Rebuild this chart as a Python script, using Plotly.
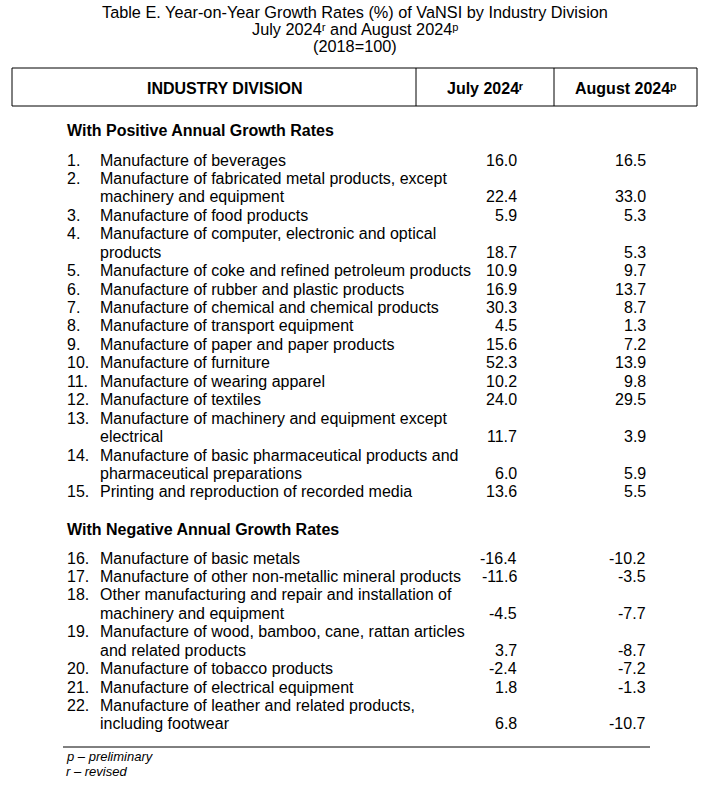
import plotly.graph_objects as go

# ---------------- data ----------------
title_lines = ["Table E. Year-on-Year Growth Rates (%) of VaNSI by Industry Division",
               "July 2024\u02b3 and August 2024\u1d56",
               "(2018=100)"]
col_headers = ["INDUSTRY DIVISION", "July 2024\u02b3", "August 2024\u1d56"]

pos_header = "With Positive Annual Growth Rates"
pos_industries = [
    ["Manufacture of beverages"],
    ["Manufacture of fabricated metal products, except", "machinery and equipment"],
    ["Manufacture of food products"],
    ["Manufacture of computer, electronic and optical", "products"],
    ["Manufacture of coke and refined petroleum products"],
    ["Manufacture of rubber and plastic products"],
    ["Manufacture of chemical and chemical products"],
    ["Manufacture of transport equipment"],
    ["Manufacture of paper and paper products"],
    ["Manufacture of furniture"],
    ["Manufacture of wearing apparel"],
    ["Manufacture of textiles"],
    ["Manufacture of machinery and equipment except", "electrical"],
    ["Manufacture of basic pharmaceutical products and", "pharmaceutical preparations"],
    ["Printing and reproduction of recorded media"],
]
pos_july = [16.0, 22.4, 5.9, 18.7, 10.9, 16.9, 30.3, 4.5, 15.6, 52.3, 10.2, 24.0, 11.7, 6.0, 13.6]
pos_aug = [16.5, 33.0, 5.3, 5.3, 9.7, 13.7, 8.7, 1.3, 7.2, 13.9, 9.8, 29.5, 3.9, 5.9, 5.5]

neg_header = "With Negative Annual Growth Rates"
neg_industries = [
    ["Manufacture of basic metals"],
    ["Manufacture of other non-metallic mineral products"],
    ["Other manufacturing and repair and installation of", "machinery and equipment"],
    ["Manufacture of wood, bamboo, cane, rattan articles", "and related products"],
    ["Manufacture of tobacco products"],
    ["Manufacture of electrical equipment"],
    ["Manufacture of leather and related products,", "including footwear"],
]
neg_july = [-16.4, -11.6, -4.5, 3.7, -2.4, 1.8, 6.8]
neg_aug = [-10.2, -3.5, -7.7, -8.7, -7.2, -1.3, -10.7]

footnotes = ["p \u2013 preliminary", "r \u2013 revised"]

# ---------------- layout helpers (pixel coordinates of the page) ----------------
W, H = 712, 798
FONT = "Liberation Sans, Arial, DejaVu Sans, sans-serif"
BLACK = "#000000"
LINE_H = 18.44
X_NUM, X_TEXT, X_JUL, X_AUG = 65, 98, 519, 648

annotations = []
shapes = []

def add_text(x, y, text, size=16, xanchor="left", bold=False, italic=False):
    if bold:
        text = "<b>" + text + "</b>"
    if italic:
        text = "<i>" + text + "</i>"
    annotations.append(dict(x=x, y=y, xref="x", yref="y", text=text, showarrow=False,
                            xanchor=xanchor, yanchor="middle",
                            font=dict(family=FONT, size=size, color=BLACK)))

# title
for i, t in enumerate(title_lines):
    add_text(355, 12 + i * 17, t, size=16.3, xanchor="center")

# header box
shapes.append(dict(type="rect", x0=12, x1=697, y0=68, y1=106, xref="x", yref="y",
                   line=dict(color=BLACK, width=1)))
for xv in [416, 554]:
    shapes.append(dict(type="line", x0=xv, x1=xv, y0=68, y1=106, xref="x", yref="y",
                       line=dict(color=BLACK, width=1)))
add_text(225, 88, col_headers[0], xanchor="center", bold=True)
add_text(485, 88, col_headers[1], xanchor="center", bold=True)
add_text(625, 88, col_headers[2], xanchor="center", bold=True)

def add_section(header, y_header, y_start, industries, july, aug, start_num):
    add_text(X_NUM, y_header, header, bold=True)
    y = y_start
    for k, (lines, jv, av) in enumerate(zip(industries, july, aug)):
        add_text(X_NUM, y, "%d." % (start_num + k))
        for j, ln in enumerate(lines):
            add_text(X_TEXT, y, ln)
            if j < len(lines) - 1:
                y += LINE_H
        add_text(X_JUL, y, "%.1f" % jv, xanchor="right")
        add_text(X_AUG, y, "%.1f" % av, xanchor="right")
        y += LINE_H
    return y

add_section(pos_header, 130, 160, pos_industries, pos_july, pos_aug, 1)
add_section(neg_header, 529, 558, neg_industries, neg_july, neg_aug, len(pos_industries) + 1)

# bottom rule
shapes.append(dict(type="line", x0=63, x1=650, y0=747, y1=747, xref="x", yref="y",
                   line=dict(color=BLACK, width=1)))
for i, f in enumerate(footnotes):
    add_text(64, 756 + i * 15, f, size=13, italic=True)

fig = go.Figure()
fig.update_layout(width=W, height=H, margin=dict(l=0, r=0, t=0, b=0),
                  paper_bgcolor="white", plot_bgcolor="white", showlegend=False,
                  xaxis=dict(range=[0, W], visible=False, fixedrange=True),
                  yaxis=dict(range=[H, 0], visible=False, fixedrange=True),
                  annotations=annotations, shapes=shapes)
# drop the default page margin so the figure sits at the window's top-left
fig.write_html("out.html", config={"displayModeBar": False},
               post_script="document.body.style.margin='0';")
